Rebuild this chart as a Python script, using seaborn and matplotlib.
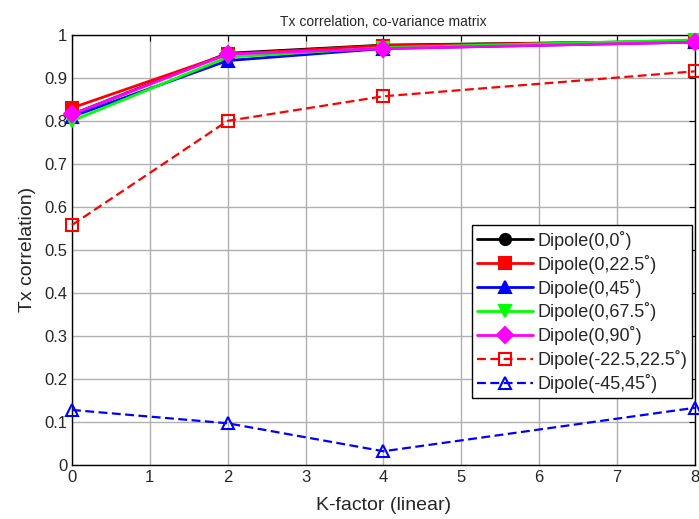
import numpy as np
import pandas as pd
import seaborn as sns
import matplotlib.pyplot as plt

# data
k_factor = [0, 2, 4, 8]
dip_0_0 = [0.815, 0.957, 0.976, 0.985]
dip_0_225 = [0.830, 0.955, 0.975, 0.985]
dip_0_45 = [0.810, 0.940, 0.968, 0.983]
dip_0_675 = [0.800, 0.948, 0.970, 0.988]
dip_0_90 = [0.815, 0.955, 0.968, 0.983]
dip_m225_225 = [0.558, 0.800, 0.857, 0.915]
dip_m45_45 = [0.128, 0.097, 0.032, 0.133]

labels = ['Dipole(0,0˚)', 'Dipole(0,22.5˚)', 'Dipole(0,45˚)', 'Dipole(0,67.5˚)',
          'Dipole(0,90˚)', 'Dipole(-22.5,22.5˚)', 'Dipole(-45,45˚)']
series = [dip_0_0, dip_0_225, dip_0_45, dip_0_675, dip_0_90, dip_m225_225, dip_m45_45]

df = pd.DataFrame({
    'K': np.tile(k_factor, len(series)),
    'corr': np.concatenate(series),
    'name': np.repeat(labels, len(k_factor)),
})

colors = ['black', 'red', 'blue', '#00ff00', 'magenta', 'red', 'blue']
markers = ['o', 's', '^', 'v', 'D', 's', '^']
dashed = [False] * 5 + [True] * 2

sns.set_style('white')
plt.rcParams['font.family'] = ['Liberation Sans', 'DejaVu Sans']

fig, ax = plt.subplots(figsize=(6.99, 5.19), dpi=100)
fig.subplots_adjust(left=0.103, right=0.994, top=0.933, bottom=0.104)

for lab, col, mk, ds in zip(labels, colors, markers, dashed):
    sub = df[df['name'] == lab]
    sns.lineplot(data=sub, x='K', y='corr', ax=ax, color=col, marker=mk,
                 linestyle=(0, (4, 2)) if ds else '-', linewidth=1.6 if ds else 2,
                 markersize=8,
                 markerfacecolor='none' if ds else col,
                 markeredgecolor=col, markeredgewidth=1.5,
                 label=lab, legend=False, clip_on=False, zorder=3)

ax.set_xlim(0, 8)
ax.set_ylim(0, 1)
ax.set_xticks(range(9))
ax.set_yticks(np.arange(0, 1.01, 0.1))
ax.set_yticklabels(['0', '0.1', '0.2', '0.3', '0.4', '0.5', '0.6', '0.7', '0.8', '0.9', '1'])
ax.grid(True, color='#b0b0b0', linewidth=1)
ax.tick_params(direction='in', top=True, right=True, labelsize=12, length=4, color='black')
for sp in ax.spines.values():
    sp.set_color('black')
    sp.set_linewidth(1)

ax.set_xlabel('K-factor (linear)', fontsize=14, labelpad=9)
ax.set_ylabel('Tx correlation)', fontsize=14, labelpad=6)
ax.set_title('Tx correlation, co-variance matrix', fontsize=10, pad=6)

leg = ax.legend(loc='upper right', bbox_to_anchor=(0.996, 0.557), fontsize=13,
                frameon=True, fancybox=False, handlelength=3.1, labelspacing=0.27,
                borderpad=0.3, handletextpad=0.2, borderaxespad=0)
leg.get_frame().set_edgecolor('black')
leg.get_frame().set_linewidth(1)
leg.get_frame().set_alpha(1)

plt.savefig('out.png', dpi=100)
